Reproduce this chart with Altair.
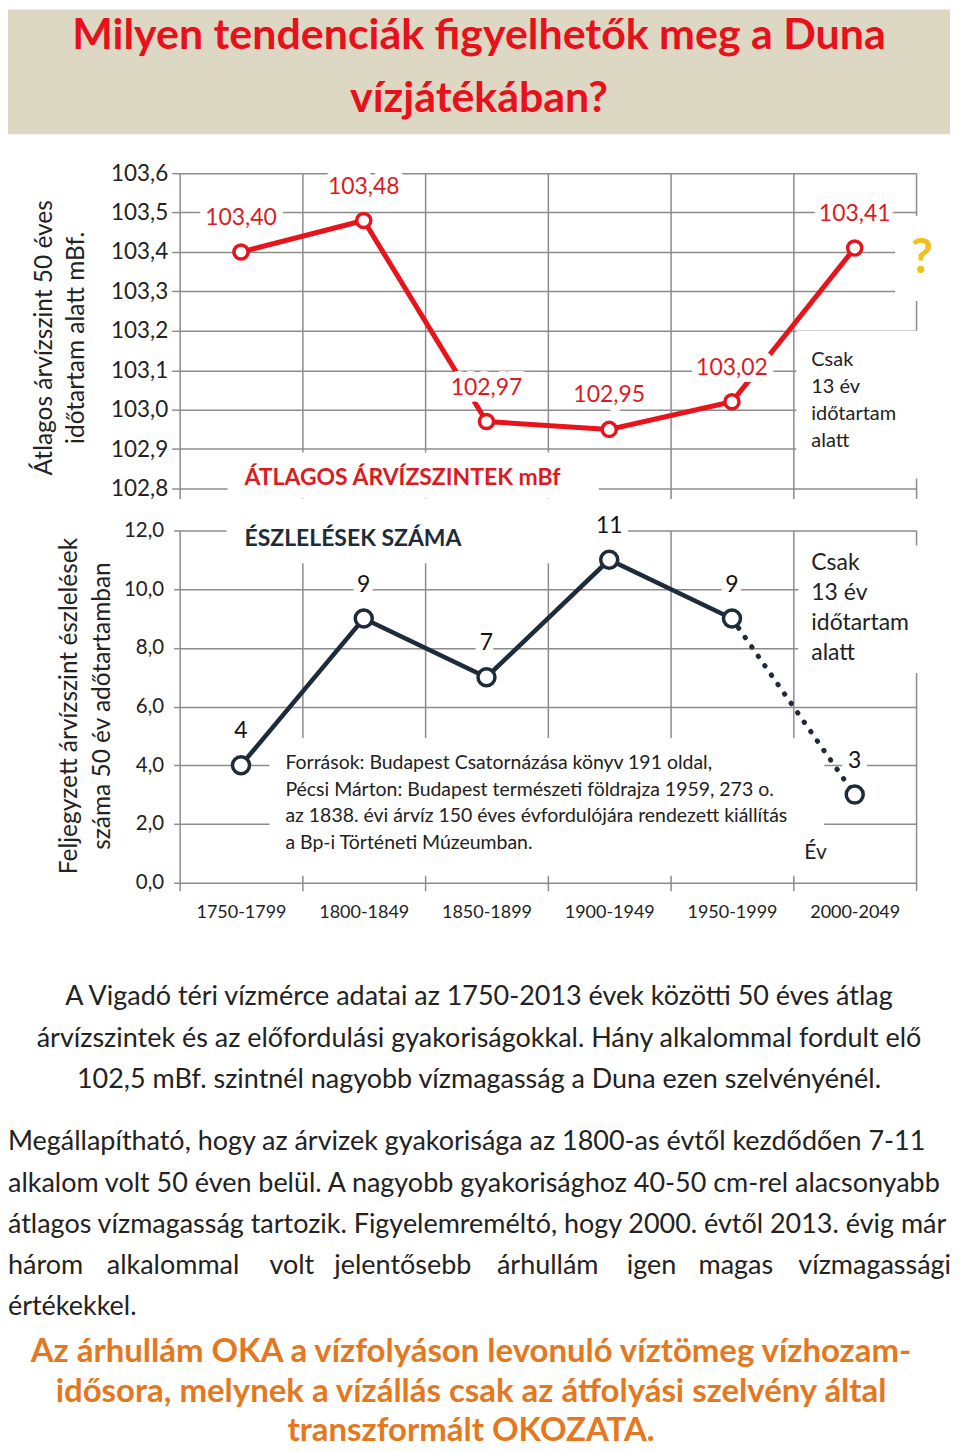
import altair as alt
import pandas as pd

# ---------------- data ----------------
periods = ["1750-1799", "1800-1849", "1850-1899", "1900-1949", "1950-1999", "2000-2049"]
levels = [103.40, 103.48, 102.97, 102.95, 103.02, 103.41]
level_labels = ["103,40", "103,48", "102,97", "102,95", "103,02", "103,41"]
counts = [4, 9, 7, 11, 9, 3]
count_labels = ["4", "9", "7", "11", "9", "3"]
level_ticks = [102.8, 102.9, 103.0, 103.1, 103.2, 103.3, 103.4, 103.5, 103.6]
count_ticks = [0, 2, 4, 6, 8, 10, 12]

title_lines = ["Milyen tendenciák figyelhetők meg a Duna", "vízjátékában?"]
top_ytitle = ["Átlagos árvízszint  50 éves", "időtartam alatt mBf."]
bot_ytitle = ["Feljegyzett árvízszint észlelések", "száma 50 év adőtartamban"]
top_series_title = "ÁTLAGOS ÁRVÍZSZINTEK mBf"
bot_series_title = "ÉSZLELÉSEK SZÁMA"
only13_lines = ["Csak", "13 év", "időtartam", " alatt"]
sources_lines = [
    "Források: Budapest Csatornázása könyv 191 oldal,",
    "Pécsi Márton: Budapest természeti  földrajza 1959, 273 o.",
    "az 1838. évi árvíz 150 éves  évfordulójára rendezett kiállítás",
    "a  Bp-i Történeti  Múzeumban.",
]
year_label = "Év"
para1_lines = [
    "A Vigadó téri vízmérce adatai az 1750-2013 évek közötti 50 éves átlag",
    "árvízszintek és az előfordulási gyakoriságokkal. Hány alkalommal fordult elő",
    "102,5 mBf. szintnél nagyobb vízmagasság a Duna ezen szelvényénél.",
]
para2_lines = [
    "Megállapítható, hogy az árvizek gyakorisága az 1800-as évtől kezdődően 7-11",
    "alkalom volt 50 éven belül. A nagyobb gyakorisághoz 40-50 cm-rel alacsonyabb",
    "átlagos vízmagasság tartozik. Figyelemreméltó, hogy 2000. évtől 2013. évig már",
]
para2_line4_words = ["három", "alkalommal", "volt", "jelentősebb", "árhullám", "igen", "magas", "vízmagassági"]
para2_last = "értékekkel."
orange_lines = [
    "Az árhullám OKA a vízfolyáson levonuló víztömeg vízhozam-",
    "idősora, melynek a vízállás csak az átfolyási szelvény által",
    "transzformált OKOZATA.",
]

# ---------------- styles ----------------
FONT = "Lato"
RED = "#e8141b"
RED_TXT = "#dc1a22"
NAVY = "#1d2b3b"
GRID = "#8c8c8c"
TXT = "#222222"
BEIGE = "#ddd8c4"
GOLD = "#f2c01c"
ORANGE = "#e3781f"
W = 738
H_TOP = 316
H_BOT = 353

one = pd.DataFrame({"k": [0]})
top_df = pd.DataFrame({"period": periods, "level": levels, "label": level_labels, "idx": list(range(6))})
bot_df = pd.DataFrame({"period": periods, "count": counts, "label": count_labels, "idx": list(range(6))})

label_expr = "replace(format(datum.value, '.1f'), '.', ',')"


def box(x1, x2, y1, y2):
    return alt.Chart(one).mark_rect(color="white").encode(
        x=alt.value(x1), x2=alt.value(x2), y=alt.value(y1), y2=alt.value(y2))


def note(text, x, y, size, color=TXT, weight="normal", align="left", lh=None, angle=0):
    # for multi-line text, y is the centre of the first line
    kw = dict(font=FONT, fontSize=size, color=color, fontWeight=weight, align=align, baseline="middle")
    if lh is not None:
        kw["lineHeight"] = lh
    if angle:
        kw["angle"] = angle
    return alt.Chart(one).mark_text(**kw).encode(x=alt.value(x), y=alt.value(y), text=alt.value(text))


def x_enc(show_labels):
    return alt.X(
        "period:N", sort=periods,
        scale=alt.Scale(domain=periods, paddingInner=0, paddingOuter=0),
        axis=alt.Axis(title=None, labels=show_labels, tickBand="extent", tickSize=10 if not show_labels else 8,
                      tickColor=GRID, tickWidth=1.5, domain=False, grid=True, gridColor=GRID,
                      gridWidth=1.5, gridOpacity=1, labelFont=FONT, labelFontSize=18,
                      labelColor=TXT, labelPadding=13, labelAngle=0),
    )


# ---------------- title panel ----------------
panel_title = alt.layer(
    box(-172, 772, 0, 125).encode(color=alt.value(BEIGE)),
    note(title_lines, 300, 27, 43, color="#e8101a", weight="bold", align="center", lh=63),
).properties(width=W, height=122)

# ---------------- top chart ----------------
x_top = x_enc(False)
y_top = alt.Y(
    "level:Q", scale=alt.Scale(domain=[102.8, 103.6], nice=False, zero=False),
    axis=alt.Axis(title=None, values=level_ticks, labelExpr=label_expr, labelFont=FONT, labelFontSize=22.5,
                  labelColor=TXT, labelPadding=4, tickSize=8, tickColor=GRID, tickWidth=1.5,
                  domain=False, grid=True, gridColor=GRID, gridWidth=1.5, gridOpacity=1),
)
base_top = alt.Chart(top_df)
top_chart = alt.layer(
    box(48, 420, 280, 326),
    box(618, 745, 158, 306),
    box(717, 765, 43, 128),
    base_top.mark_line(color=RED, strokeWidth=5).encode(x=x_top, y=y_top, order="idx:Q"),
    base_top.mark_text(font=FONT, fontSize=23, dy=-34, fill="white", stroke="white", strokeWidth=14,
                       strokeJoin="round").encode(x=x_top, y=y_top, text="label:N"),
    base_top.mark_text(font=FONT, fontSize=23, dy=-34, color=RED_TXT).encode(x=x_top, y=y_top, text="label:N"),
    base_top.mark_point(shape="circle", size=200, fill="white", fillOpacity=1, stroke=RED, strokeWidth=3.5,
                        opacity=1).encode(x=x_top, y=y_top),
    note(top_series_title, 65, 305, 23, color=RED_TXT, weight="bold"),
    note(only13_lines, 633, 187, 20, lh=27),
    note("?", 744, 86, 48, color=GOLD, weight="bold", align="center"),
    note(top_ytitle[0], -135, 165, 24.5, align="center", angle=270),
    note(top_ytitle[1], -103, 165, 24.5, align="center", angle=270),
).properties(width=W, height=H_TOP)

# ---------------- bottom chart ----------------
x_bot = x_enc(True)
y_bot = alt.Y(
    "count:Q", scale=alt.Scale(domain=[0, 12], nice=False),
    axis=alt.Axis(title=None, values=count_ticks, labelExpr=label_expr, labelFont=FONT, labelFontSize=20.5,
                  labelColor=TXT, labelPadding=10, tickSize=6, tickColor=GRID, tickWidth=1.5,
                  domain=False, grid=True, gridColor=GRID, gridWidth=1.5, gridOpacity=1),
)
base_bot = alt.Chart(bot_df)
bot_chart = alt.layer(
    box(47, 418, -15, 33),
    box(620, 745, 15, 143),
    box(90, 646, 208, 346),
    base_bot.mark_line(color=NAVY, strokeWidth=4.5).encode(x=x_bot, y=y_bot, order="idx:Q")
    .transform_filter(alt.datum.idx <= 4),
    base_bot.mark_line(color=NAVY, strokeWidth=5, strokeDash=[0.5, 11], strokeCap="round")
    .encode(x=x_bot, y=y_bot, order="idx:Q").transform_filter(alt.datum.idx >= 4),
    base_bot.mark_text(font=FONT, fontSize=23, dy=-34, fill="white", stroke="white", strokeWidth=14,
                       strokeJoin="round").encode(x=x_bot, y=y_bot, text="label:N"),
    base_bot.mark_text(font=FONT, fontSize=23, dy=-34, color="#111111").encode(x=x_bot, y=y_bot, text="label:N"),
    base_bot.mark_point(shape="circle", size=290, fill="white", fillOpacity=1, stroke=NAVY, strokeWidth=3.5,
                        opacity=1).encode(x=x_bot, y=y_bot),
    note(bot_series_title, 65, 9, 23, color=NAVY, weight="bold"),
    note(only13_lines, 633, 33, 23, lh=30),
    note(sources_lines, 106, 233, 19.5, lh=26.7),
    note(year_label, 626, 323, 21),
    note(bot_ytitle[0], -110, 176, 24.5, align="center", angle=270),
    note(bot_ytitle[1], -77, 176, 24.5, align="center", angle=270),
).properties(width=W, height=H_BOT)

# ---------------- text panel ----------------
word_df = pd.DataFrame({"w": para2_line4_words})
word_df["px"] = [-172, -73, 90, 155, 318, 448, 520, 620]

panel_text = alt.layer(
    note(para1_lines, 300, 73, 27, align="center", lh=41.5),
    note(para2_lines, -172, 218, 27, lh=41.5),
    alt.Chart(word_df).mark_text(font=FONT, fontSize=27, color=TXT, align="left", baseline="middle").encode(
        x=alt.X("px:Q", scale=None, axis=None), y=alt.value(342), text="w:N"),
    note(para2_last, -172, 383, 27),
    note(orange_lines, 292, 428, 33, color=ORANGE, weight="bold", align="center", lh=40),
).properties(width=W, height=518)

chart = alt.vconcat(
    panel_title, top_chart, bot_chart, panel_text, spacing=42, bounds="flush"
).properties(padding=0).configure_view(strokeWidth=0)

chart.save("out.html", embed_options={"renderer": "svg", "actions": False})
